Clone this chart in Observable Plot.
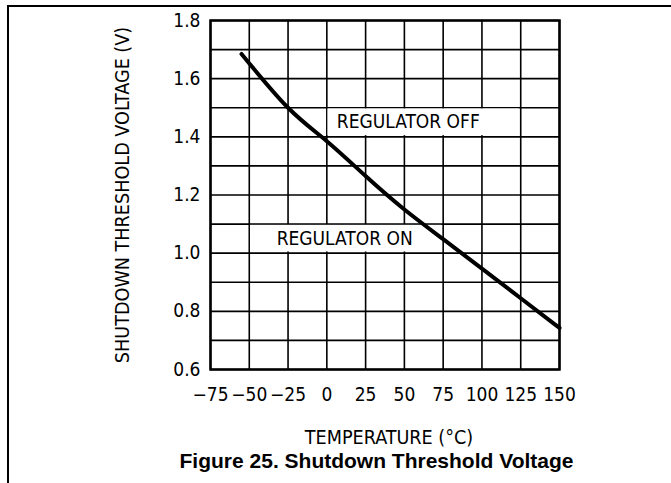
<!DOCTYPE html>
<html>
<head>
<meta charset="utf-8">
<script src="https://cdn.jsdelivr.net/npm/d3@7"></script>
<script src="https://cdn.jsdelivr.net/npm/@observablehq/plot@0.6"></script>
<style>
  html, body { margin: 0; padding: 0; background: #fff; }
  #wrap { position: relative; width: 671px; height: 483px; overflow: hidden; }
  #border { position: absolute; left: 7px; top: 5px; width: 670px; height: 490px;
            border-top: 2px solid #000; border-left: 2px solid #000; box-sizing: border-box; }
  #chart { position: absolute; left: 0; top: 0; }
</style>
</head>
<body>
<div id="wrap"><div id="border"></div><div id="chart"></div></div>
<script>
// Data
const temperature = [-55, -25, 0, 25, 50, 75, 100, 125, 150];
const thresholdV  = [1.685, 1.5, 1.385, 1.265, 1.15, 1.048, 0.947, 0.845, 0.743];
const xTicks = [-75, -50, -25, 0, 25, 50, 75, 100, 125, 150];
const yTicks = [0.6, 0.8, 1.0, 1.2, 1.4, 1.6, 1.8];
const yGrid  = [0.6, 0.7, 0.8, 0.9, 1.0, 1.1, 1.2, 1.3, 1.4, 1.5, 1.6, 1.7, 1.8];
const regionLabels = ["REGULATOR OFF", "REGULATOR ON"];
const regionX = [52.5, 11.5];
const regionY = [1.45, 1.05];
const regionBoxX1 = [0, -50];
const regionBoxX2 = [125, 75];
const regionBoxY1 = [1.4, 1.0];
const regionBoxY2 = [1.5, 1.1];
const xLabel = "TEMPERATURE (°C)";
const yLabel = "SHUTDOWN THRESHOLD VOLTAGE (V)";
const title = "Figure 25. Shutdown Threshold Voltage";

const curve = temperature.map((t, i) => ({t, v: thresholdV[i]}));
const regions = regionLabels.map((label, i) => ({
  label, x: regionX[i], y: regionY[i],
  x1: regionBoxX1[i], x2: regionBoxX2[i], y1: regionBoxY1[i], y2: regionBoxY2[i]
}));

const cadFont = '"Liberation Sans Narrow", "DejaVu Sans Condensed", "Liberation Sans", sans-serif';
const minusFmt = d => (d < 0 ? "\u2212" + Math.abs(d) : String(d));

const chart = Plot.plot({
  width: 671,
  height: 483,
  marginLeft: 210,
  marginRight: 112,
  marginTop: 20,
  marginBottom: 114,
  style: {fontFamily: cadFont, fontSize: "19px", color: "#000", background: "transparent", overflow: "visible"},
  x: {domain: [-75, 150]},
  y: {domain: [0.6, 1.8]},
  marks: [
    Plot.ruleX(xTicks, {stroke: "#000", strokeWidth: 1.6}),
    Plot.ruleY(yGrid, {stroke: "#000", strokeWidth: 1.6}),
    Plot.rect(regions, {x1: "x1", x2: "x2", y1: "y1", y2: "y2", fill: "#fff", inset: 1.2}),
    Plot.line(curve, {x: "t", y: "v", stroke: "#000", strokeWidth: 4, curve: "natural"}),
    Plot.text(regions, {x: "x", y: "y", text: "label", fontSize: 19, fill: "#000"}),
    Plot.frame({stroke: "#000", strokeWidth: 2.5}),
    Plot.axisX(xTicks, {tickSize: 0, tickPadding: 18, label: null, tickFormat: minusFmt, fontSize: 19}),
    Plot.axisY(yTicks, {tickSize: 0, tickPadding: 10, label: null, tickFormat: d3.format(".1f"), fontSize: 19}),
    Plot.text([xLabel], {frameAnchor: "bottom", textAnchor: "middle", dx: 4, dy: 74, fontSize: 19.6, fill: "#000"}),
    Plot.text([yLabel], {frameAnchor: "left", textAnchor: "middle", lineAnchor: "middle", rotate: -90, dx: -87.5,
      fontSize: 19.6, fill: "#000"}),
    Plot.text([title], {frameAnchor: "bottom", textAnchor: "middle", dx: -8.5, dy: 98.5, fontSize: 21, fontWeight: "bold",
      fontFamily: '"Liberation Sans", Arial, sans-serif', fill: "#000"})
  ]
});
document.getElementById("chart").appendChild(chart);
</script>
</body>
</html>
